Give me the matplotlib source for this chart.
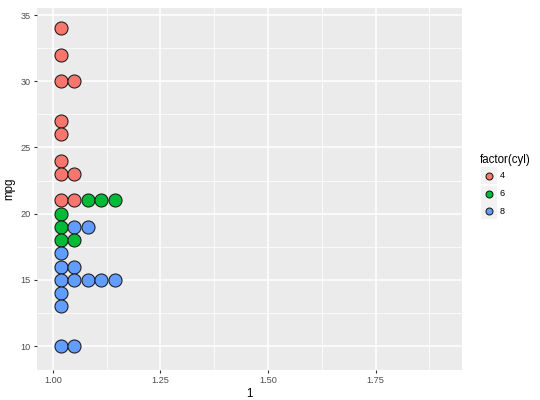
import matplotlib
matplotlib.use("Agg")
import matplotlib.pyplot as plt
from matplotlib.patches import Rectangle
from matplotlib.lines import Line2D

plt.rcParams['font.family'] = ['Liberation Sans', 'DejaVu Sans']

# Data: mpg bins and dot counts per cylinder group (stacked 4 -> 6 -> 8)
mpg_bins = [34, 32, 30, 27, 26, 24, 23, 21, 20, 19, 18, 17, 16, 15, 14, 13, 10]
count_4 =  [1,  1,  2,  1,  1,  1,  2,  2,  0,  0,  0,  0,  0,  0,  0,  0,  0]
count_6 =  [0,  0,  0,  0,  0,  0,  0,  3,  1,  1,  2,  0,  0,  0,  0,  0,  0]
count_8 =  [0,  0,  0,  0,  0,  0,  0,  0,  0,  2,  0,  1,  2,  5,  1,  1,  2]
groups = ["4", "6", "8"]
colors = ["#F8766D", "#00BA38", "#619CFF"]

W, H = 540, 400
fig = plt.figure(figsize=(W/100, H/100), dpi=100)
L, R, T, B = 37, 462, 8, 370
ax = fig.add_axes([L/W, 1-B/H, (R-L)/W, (B-T)/H])
ax.set_facecolor("#EBEBEB")
for s in ax.spines.values():
    s.set_visible(False)

ax.set_xlim(0.963, 1.951)
ax.set_ylim(8.19, 35.53)

ax.set_xticks([1.0, 1.25, 1.5, 1.75])
ax.set_xticklabels(["1.00", "1.25", "1.50", "1.75"])
ax.set_yticks([10, 15, 20, 25, 30, 35])
ax.set_xticks([1.125, 1.375, 1.625, 1.875], minor=True)
ax.set_yticks([12.5, 17.5, 22.5, 27.5, 32.5], minor=True)
ax.grid(which="major", color="white", lw=1.1)
ax.grid(which="minor", color="white", lw=0.55)
ax.set_axisbelow(True)
ax.tick_params(which="major", length=2.5, width=0.8, color="#333333",
               labelsize=6.6, labelcolor="#4D4D4D", pad=2)
ax.tick_params(which="minor", length=0)

x0 = 1.0186
dx = 0.0314
ms = 9.4
for i, y in enumerate(mpg_bins):
    k = 0
    for cnts, col in zip([count_4, count_6, count_8], colors):
        for _ in range(cnts[i]):
            ax.plot(x0 + k*dx, y, 'o', ms=ms, mfc=col, mec="#1a1a1a", mew=0.75,
                    zorder=3, clip_on=False)
            k += 1

ax.set_xlabel("1", fontsize=8.3, color="black", labelpad=2)
ax.set_ylabel("mpg", fontsize=8.3, color="black", labelpad=4)

# Legend (manual)
fig.text(480/W, 1-160/H, "factor(cyl)", fontsize=8.3, va="center", ha="left")
key_y = [176, 194, 211]
for yk, col, g in zip(key_y, colors, groups):
    fig.patches.append(Rectangle(((481)/W, 1-(yk+8.5)/H), 16/W, 17/H,
                                 transform=fig.transFigure, facecolor="#F2F2F2",
                                 edgecolor="none"))
    fig.lines.append(Line2D([489/W], [1-yk/H], transform=fig.transFigure,
                            marker='o', ms=5, mfc=col, mec="#1a1a1a", mew=0.75, ls="none"))
    fig.text(500/W, 1-yk/H, g, fontsize=6.6, va="center", ha="left")

fig.savefig("out.png", dpi=100)
